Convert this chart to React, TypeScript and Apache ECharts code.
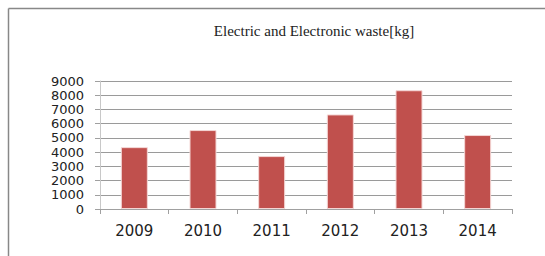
import React, { useEffect, useRef } from "react";
import * as echarts from "echarts";

const categories = ["2009", "2010", "2011", "2012", "2013", "2014"];
const wasteKg = [4350, 5550, 3720, 6650, 8350, 5200];
const titleText = "Electric and Electronic waste[kg]";

export default function App() {
  const ref = useRef<HTMLDivElement>(null);
  useEffect(() => {
    if (!ref.current) return;
    const chart = echarts.init(ref.current, null, { renderer: "svg" });
    chart.setOption({
      animation: false,
      backgroundColor: "#ffffff",
      title: {
        text: titleText,
        left: 309,
        top: 18,
        textAlign: "center",
        textStyle: {
          fontFamily: "Liberation Serif",
          fontSize: 15,
          fontWeight: "normal",
          color: "#222",
        },
      },
      graphic: [
        {
          type: "line",
          shape: { x1: 8.5, y1: 8.5, x2: 545, y2: 8.5 },
          style: { stroke: "#888", lineWidth: 1.5 },
        },
        {
          type: "line",
          shape: { x1: 8.5, y1: 8.5, x2: 8.5, y2: 256 },
          style: { stroke: "#888", lineWidth: 1.5 },
        },
      ],
      grid: { left: 100, right: 33, top: 81, bottom: 47 },
      xAxis: {
        type: "category",
        data: categories,
        axisLine: { lineStyle: { color: "#a0a0a0", width: 1 } },
        axisTick: { show: true, length: 5, alignWithLabel: false, lineStyle: { color: "#a0a0a0" } },
        axisLabel: {
          fontFamily: "DejaVu Sans",
          fontSize: 15,
          color: "#222",
          margin: 14,
        },
      },
      yAxis: {
        type: "value",
        min: 0,
        max: 9000,
        interval: 1000,
        axisLine: { show: true, lineStyle: { color: "#c8c8c8", width: 1 } },
        axisTick: { show: true, length: 5, lineStyle: { color: "#a0a0a0" } },
        splitLine: { lineStyle: { color: "#9a9a9a", width: 1 } },
        axisLabel: {
          fontFamily: "DejaVu Sans",
          fontSize: 13,
          lineHeight: 13,
          color: "#222",
          margin: 16,
          formatter: (v: number) => String(v),
        },
      },
      series: [
        {
          type: "bar",
          data: wasteKg,
          barWidth: 27,
          itemStyle: { color: "#C0504D", borderColor: "#f4d6d5", borderWidth: 1 },
        },
      ],
    });
    return () => chart.dispose();
  }, []);
  return (
    <div
      ref={ref}
      style={{ position: "absolute", left: 0, top: 0, width: 545, height: 256 }}
    />
  );
}
